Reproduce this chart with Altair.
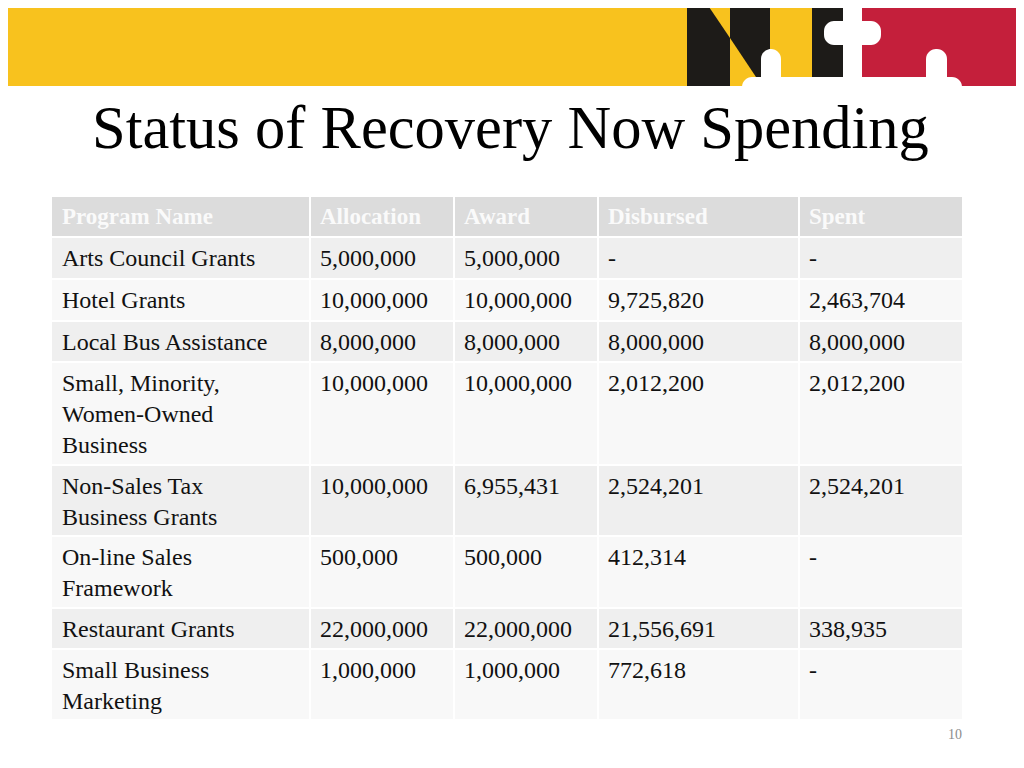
import altair as alt
import pandas as pd

# ---------------- data ----------------
title_text = "Status of Recovery Now Spending"
headers = ["Program Name", "Allocation", "Award", "Disbursed", "Spent"]
programs = [
    "Arts Council Grants",
    "Hotel Grants",
    "Local Bus Assistance",
    "Small, Minority,\nWomen-Owned\nBusiness",
    "Non-Sales Tax\nBusiness Grants",
    "On-line Sales\nFramework",
    "Restaurant Grants",
    "Small Business\nMarketing",
]
allocation = [5000000, 10000000, 8000000, 10000000, 10000000, 500000, 22000000, 1000000]
award = [5000000, 10000000, 8000000, 10000000, 6955431, 500000, 22000000, 1000000]
disbursed = [None, 9725820, 8000000, 2012200, 2524201, 412314, 21556691, 772618]
spent = [None, 2463704, 8000000, 2012200, 2524201, None, 338935, None]
page_number = "10"

# ---------------- layout (pixel positions on the slide) ----------------
W, H, M = 1008, 752, 8
col_edges = [52, 310, 454, 598, 799, 963]
row_edges = [197, 237, 279, 321, 362, 465, 536, 608, 649, 720]
text_pad = 10
header_base = 27
body_base = 29
line_h = 31

YELLOW = "#F8C21E"
BLACK = "#1D1B18"
RED = "#C41F3B"
HEADER_FILL = "#DCDCDC"
BAND_A = "#EFEFEF"
BAND_B = "#F8F8F8"

xs = alt.Scale(domain=[M, M + W], nice=False, zero=False)
ys = alt.Scale(domain=[M, M + H], nice=False, zero=False, reverse=True)


def X(f):
    return alt.X(f, type="quantitative", scale=xs, axis=None)


def Y(f):
    return alt.Y(f, type="quantitative", scale=ys, axis=None)


def fmt(v):
    return "-" if v is None else f"{v:,}"


# ---------------- page background ----------------
page_bg = alt.Chart(pd.DataFrame(dict(x=[0], x2=[1030], y=[0], y2=[770]))).mark_rect(
    color="white"
).encode(x=X("x"), x2="x2", y=Y("y"), y2="y2")

# ---------------- banner ----------------
banner_rects = pd.DataFrame([
    dict(x=0, x2=1024, y=1, y2=86, c=YELLOW),
    dict(x=812, x2=860, y=1, y2=86, c=BLACK),
    dict(x=860, x2=1024, y=1, y2=86, c=RED),
])
banner = alt.Chart(banner_rects).mark_rect().encode(
    x=X("x"), x2="x2", y=Y("y"), y2="y2", fill=alt.Color("c:N", scale=None)
)

pale_a = pd.DataFrame(dict(x=[687, 705, 730], y=[1, 1, 38], y2=[86, 86, 86]))
pale_b = pd.DataFrame(dict(x=[730, 762, 770], y=[1, 1, 1], y2=[38, 86, 86]))
area_a = alt.Chart(pale_a).mark_area(color=BLACK, interpolate="linear").encode(
    x=X("x"), y=Y("y"), y2="y2"
)
area_b = alt.Chart(pale_b).mark_area(color=BLACK, interpolate="linear").encode(
    x=X("x"), y=Y("y"), y2="y2"
)

cross_parts = pd.DataFrame([
    dict(x=843, x2=862, y=-6, y2=90),
    dict(x=824, x2=881, y=21, y2=45),
    dict(x=761, x2=781, y=49, y2=95),
    dict(x=926, x2=947, y=49, y2=95),
    dict(x=742, x2=962, y=77, y2=100),
])
crosses = alt.Chart(cross_parts).mark_rect(color="white", cornerRadius=10).encode(
    x=X("x"), x2="x2", y=Y("y"), y2="y2"
)
under = alt.Chart(pd.DataFrame(dict(x=[0], x2=[1024], y=[86], y2=[100]))).mark_rect(
    color="white"
).encode(x=X("x"), x2="x2", y=Y("y"), y2="y2")

# ---------------- title ----------------
title = alt.Chart(pd.DataFrame(dict(x=[92], y=[148], t=[title_text]))).mark_text(
    align="left", baseline="alphabetic", font="Liberation Serif", fontSize=60.5, color="#000000"
).encode(x=X("x"), y=Y("y"), text="t:N")

# ---------------- table ----------------
columns = [programs, [fmt(v) for v in allocation], [fmt(v) for v in award],
           [fmt(v) for v in disbursed], [fmt(v) for v in spent]]

cells = []
for j in range(len(row_edges) - 1):
    fill = HEADER_FILL if j == 0 else (BAND_A if j % 2 == 1 else BAND_B)
    for i in range(len(col_edges) - 1):
        cells.append(dict(
            x=col_edges[i] + (1 if i > 0 else 0),
            x2=col_edges[i + 1] - 1,
            y=row_edges[j] + (1 if j > 0 else 0),
            y2=row_edges[j + 1] - 1,
            c=fill,
        ))
cell_layer = alt.Chart(pd.DataFrame(cells)).mark_rect().encode(
    x=X("x"), x2="x2", y=Y("y"), y2="y2", fill=alt.Color("c:N", scale=None)
)

head_df = pd.DataFrame([
    dict(x=col_edges[i] + text_pad, y=row_edges[0] + header_base, t=h)
    for i, h in enumerate(headers)
])
head_text = alt.Chart(head_df).mark_text(
    align="left", baseline="alphabetic", font="Liberation Serif", fontSize=23,
    fontWeight="bold", color="#FAFAFA"
).encode(x=X("x"), y=Y("y"), text="t:N")

body = []
for j in range(len(programs)):
    for i, col in enumerate(columns):
        body.append(dict(x=col_edges[i] + text_pad, y=row_edges[j + 1] + body_base, t=col[j]))
body_text = alt.Chart(pd.DataFrame(body)).mark_text(
    align="left", baseline="alphabetic", font="Liberation Serif", fontSize=24,
    color="#111111", lineBreak="\n", lineHeight=line_h
).encode(x=X("x"), y=Y("y"), text="t:N")

page = alt.Chart(pd.DataFrame(dict(x=[962], y=[739], t=[page_number]))).mark_text(
    align="right", baseline="alphabetic", font="Liberation Serif", fontSize=14, color="#8C8C8C"
).encode(x=X("x"), y=Y("y"), text="t:N")

chart = alt.layer(
    page_bg, banner, area_a, area_b, under, crosses, title, cell_layer, head_text, body_text, page
).properties(
    width=W, height=H, padding=0, autosize=alt.AutoSizeParams(type="none")
).configure_view(stroke="transparent", strokeWidth=0).configure(background="white")

chart.save("out.html", embed_options={"renderer": "svg", "actions": False})
